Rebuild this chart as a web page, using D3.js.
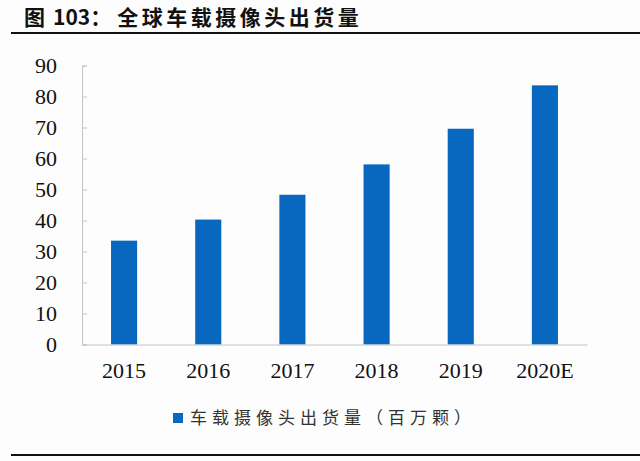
<!DOCTYPE html>
<html>
<head>
<meta charset="utf-8">
<script src="https://cdn.jsdelivr.net/npm/d3@7"></script>
<style>
  html, body { margin: 0; padding: 0; background: #fdfdfd; }
  svg { display: block; }
</style>
</head>
<body>
<svg id="chart" width="640" height="461"></svg>
<script>
// chart data
var years = ["2015", "2016", "2017", "2018", "2019", "2020E"];
var shipments = [33.5, 40.3, 48.3, 58.1, 69.6, 83.6];
var yTicks = [0, 10, 20, 30, 40, 50, 60, 70, 80, 90];
var titleParts = ["图", "103：", "全球车载摄像头出货量"];
var legendText = "车载摄像头出货量（百万颗）";

var svg = d3.select("#chart");
var barColor = "#0867bf";
var axisColor = "#c4c4c4";

// title + rules
var title = svg.append("text")
    .attr("x", 24)
    .attr("y", 25)
    .attr("font-family", "'Noto Sans CJK SC', sans-serif")
    .attr("font-weight", "bold")
    .attr("font-size", 21)
    .attr("fill", "#111");
title.append("tspan").text(titleParts[0]);
title.append("tspan").attr("dx", 8).text(titleParts[1]);
title.append("tspan").attr("dx", 6).attr("letter-spacing", 3.5).text(titleParts[2]);

svg.append("line")
    .attr("x1", 11).attr("x2", 640)
    .attr("y1", 33).attr("y2", 33)
    .attr("stroke", "#111").attr("stroke-width", 2);

svg.append("line")
    .attr("x1", 11).attr("x2", 640)
    .attr("y1", 455).attr("y2", 455)
    .attr("stroke", "#111").attr("stroke-width", 2);

// scales
var x = d3.scaleBand()
    .domain(years)
    .range([82, 587])
    .paddingInner(0.69)
    .paddingOuter(0.345);

var y = d3.scaleLinear()
    .domain([0, 90])
    .range([344.5, 65.5]);

// y axis: ticks point inward
var yAxis = svg.append("g")
    .attr("transform", "translate(82,0)")
    .call(d3.axisLeft(y).tickValues(yTicks).tickSize(-5).tickPadding(25).tickSizeOuter(-5));
yAxis.select(".domain").attr("stroke", axisColor);
yAxis.selectAll(".tick line").attr("stroke", axisColor);
yAxis.selectAll(".tick text")
    .attr("font-family", "'Liberation Serif', 'Times New Roman', serif")
    .attr("font-size", 22)
    .attr("fill", "#111");

// bars
svg.append("g").selectAll("rect")
    .data(shipments)
    .enter()
    .append("rect")
    .attr("x", function (d, i) { return x(years[i]); })
    .attr("y", function (d) { return y(d); })
    .attr("width", x.bandwidth())
    .attr("height", function (d) { return y(0) - y(d); })
    .attr("fill", barColor);

// x axis
var xAxis = svg.append("g")
    .attr("transform", "translate(0," + y(0) + ")")
    .call(d3.axisBottom(x).tickSize(0).tickSizeOuter(0).tickPadding(18));
xAxis.select(".domain").attr("stroke", axisColor);
xAxis.selectAll(".tick text")
    .attr("font-family", "'Liberation Serif', 'Times New Roman', serif")
    .attr("font-size", 22)
    .attr("fill", "#111");

// legend
var legend = svg.append("g").attr("transform", "translate(173,413)");
legend.append("rect")
    .attr("width", 10).attr("height", 10)
    .attr("fill", barColor);
legend.append("text")
    .attr("x", 17)
    .attr("y", 11)
    .attr("font-family", "'Noto Sans CJK SC', sans-serif")
    .attr("font-size", 17)
    .attr("letter-spacing", 5)
    .attr("fill", "#333")
    .text(legendText);
</script>
</body>
</html>
